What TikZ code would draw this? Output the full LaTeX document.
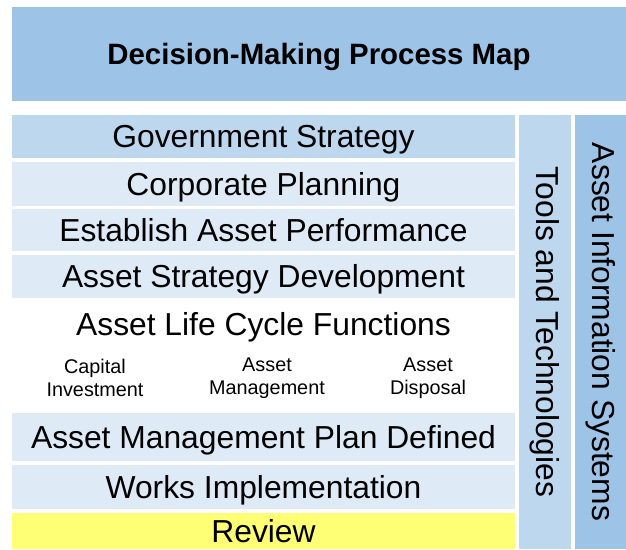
\documentclass[tikz,border=0pt]{standalone}
\usepackage{fontspec}
\setmainfont{Liberation Sans}
\definecolor{titleblue}{HTML}{9DC3E6}
\definecolor{midblue}{HTML}{BDD7EE}
\definecolor{paleblue}{HTML}{DEEBF7}
\definecolor{revyellow}{HTML}{FFFF75}
\begin{document}
\begin{tikzpicture}[x=1pt,y=-1pt,
  box/.style={draw=none,inner sep=0pt,outer sep=0pt,anchor=center},
  rowtext/.style={font=\fontsize{31.8}{36}\selectfont},
  capcentre/.style={text height=22.8pt,text depth=0pt},
  subtext/.style={font=\fontsize{19.8}{23}\selectfont,align=center,inner sep=0pt}]
\useasboundingbox (0,0) rectangle (626,549);
\node[box,text height=21pt,text depth=0pt,fill=titleblue,minimum width=614pt,minimum height=94pt,font=\fontsize{29.4}{34}\selectfont\bfseries] (title) at (319,54) {Decision-Making Process Map};
\node[box,rowtext,capcentre,fill=midblue,minimum width=503pt,minimum height=43pt] (gov) at (263.5,136.5) {Government Strategy};
\node[box,rowtext,capcentre,fill=paleblue,minimum width=503pt,minimum height=44pt] (corp) at (263.5,184) {Corporate Planning};
\node[box,rowtext,capcentre,fill=paleblue,minimum width=503pt,minimum height=42pt] (est) at (263.5,230) {Establish Asset Performance};
\node[box,rowtext,capcentre,fill=paleblue,minimum width=503pt,minimum height=43pt] (strat) at (263.5,276.5) {Asset Strategy Development};
\node[box,rowtext,capcentre] (alc) at (263.5,324) {Asset Life Cycle Functions};
\node[subtext] (cap) at (95,378) {Capital\\Investment};
\node[subtext] (mgmt) at (267,378) {Asset\\Management};
\node[subtext] (disp) at (428,378) {Asset\\Disposal};
\node[box,rowtext,capcentre,fill=paleblue,minimum width=503pt,minimum height=48pt] (amp) at (263.5,437) {Asset Management Plan Defined};
\node[box,rowtext,capcentre,fill=paleblue,minimum width=503pt,minimum height=44pt] (works) at (263.5,487) {Works Implementation};
\node[box,rowtext,capcentre,fill=revyellow,minimum width=503pt,minimum height=36pt] (review) at (263.5,531) {Review};
\node[box,fill=midblue,minimum width=52pt,minimum height=434pt] (tools) at (544.6,332) {};
\node[rowtext,rotate=-90] (toolst) at (tools.center) {Tools and Technologies};
\node[box,fill=titleblue,minimum width=51pt,minimum height=434pt] (ais) at (600.5,332) {};
\node[rowtext,rotate=-90] (aist) at (ais.center) {Asset Information Systems};
\end{tikzpicture}
\end{document}
